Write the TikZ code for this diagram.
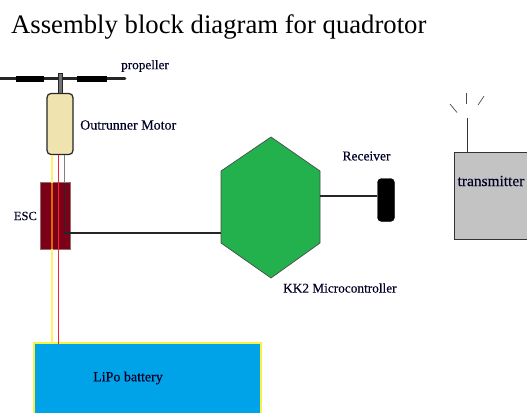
\documentclass[tikz,border=0pt]{standalone}
\usepackage{fontspec}
\setmainfont{Liberation Serif}
\begin{document}
\begin{tikzpicture}[x=1pt,y=-1pt,
  lbl/.style={inner sep=0pt,font=\addfontfeature{FakeBold=0.25}\fontsize{#1}{16}\selectfont,text=black!85!blue},
  lbl/.default=14,
  wire/.style={line width=1.2pt}]
\useasboundingbox (0,0) rectangle (527,412);
\node[anchor=west,inner sep=0pt,font=\fontsize{26.7}{30}\selectfont] (title) at (11,27) {Assembly block diagram for quadrotor};
% battery
\node[draw={rgb,255:red,250;green,240;blue,70},line width=1.2pt,fill={rgb,255:red,0;green,162;blue,232},minimum width=227pt,minimum height=72pt,inner sep=0pt] (bat) at (147.5,379) {};
\node[lbl] (batl) at (128,378) {LiPo battery};
% ESC
\node[draw={rgb,255:red,150;green,110;blue,110},line width=0.8pt,fill={rgb,255:red,125;green,0;blue,25},minimum width=30pt,minimum height=67pt,inner sep=0pt] (esc) at (55.5,216) {};
\node[lbl=12.5,anchor=east] (escl) at (37,216) {ESC};
% motor
\node[draw=black!85,line width=1.2pt,fill={rgb,255:red,239;green,228;blue,176},rounded corners=4pt,minimum width=26pt,minimum height=61pt,inner sep=0pt] (motor) at (60,124) {};
\node[lbl,anchor=west] (motl) at (80,125) {Outrunner Motor};
% wires
\coordinate (my) at (52,154.5);
\coordinate (mr) at (58.5,154.5);
\coordinate (mg) at (64.5,154.5);
\draw[line width=1.3pt,draw={rgb,255:red,255;green,242;blue,100}] (my) -- (52,342.5);
\draw[line width=1pt,draw={rgb,255:red,237;green,40;blue,50}] (mr) -- (58.5,344);
\draw[line width=1.3pt,draw=orange!85!black] (52,183) -- (52,249);
\draw[line width=1.2pt,draw=black!50] (mg) -- (64.5,183);
\draw[wire,draw=black!85] (64.5,183) -- (64.5,233) -- (221,233);
% propeller
\coordinate (pl) at (0,78.5);
\coordinate (pr) at (125,78.5);
\draw[line width=2.8pt,black!85,line cap=round] (pl) -- (pr);
\draw[line width=6pt,black] (16,78.5) -- (44,78.5);
\draw[line width=6pt,black] (77,78.5) -- (107,78.5);
\draw[black!85,fill=black!55,line width=0.8pt] (58.5,73) rectangle (62,93);
\node[lbl=13.2,anchor=west] (propl) at (121,66) {propeller};
% KK2
\fill[fill={rgb,255:red,34;green,177;blue,76},draw=black!70,line width=0.7pt] (271,137) -- (320,171) -- (320,243) -- (271,278) -- (221,243) -- (221,171) -- cycle;
\node[lbl=13.3,anchor=west] (kkl) at (283,288) {KK2 Microcontroller};
% receiver
\node[draw=black,fill=black,rounded corners=4pt,minimum width=17pt,minimum height=43pt,inner sep=0pt] (rx) at (386,200) {};
\draw[wire,black!85] (320,196) -- (rx.west |- 0,196);
\node[lbl=13.5] (rxl) at (366.5,156) {Receiver};
% transmitter
\node[draw=black!80,line width=1pt,fill={rgb,255:red,195;green,195;blue,195},minimum width=73pt,minimum height=87pt,inner sep=0pt] (tx) at (490.5,195.5) {};
\node[lbl=15.4] (txl) at (491,181) {transmitter};
\coordinate (ant) at (467,118);
\draw[line width=0.9pt,black!80] (ant) -- (467,152);
\draw[line width=0.7pt,black!70] (450,104) -- (457,112.5);
\draw[line width=0.7pt,black!70] (466,93) -- (466,104);
\draw[line width=0.7pt,black!70] (478,105) -- (484,96);
\end{tikzpicture}
\end{document}
